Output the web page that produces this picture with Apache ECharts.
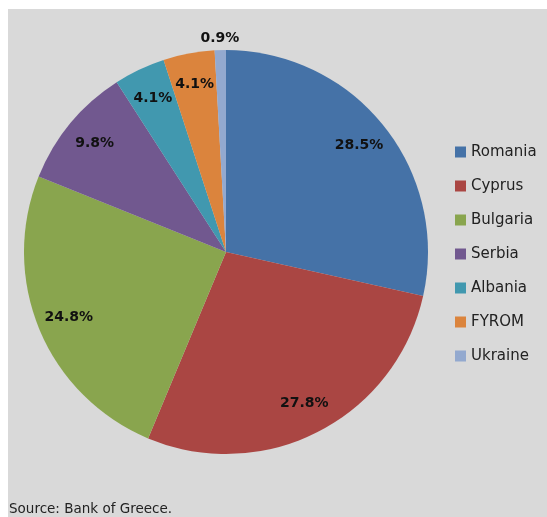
<!DOCTYPE html>
<html>
<head>
<meta charset="utf-8">
<script src="https://cdn.jsdelivr.net/npm/echarts@6/dist/echarts.min.js"></script>
<style>
  html, body { margin: 0; padding: 0; background: #fff; }
  #chart { position: absolute; left: 8px; top: 9px; width: 539px; height: 508px; }
</style>
</head>
<body>
<div id="chart"></div>
<script>
// shares by country (%)
const countries = ['Romania', 'Cyprus', 'Bulgaria', 'Serbia', 'Albania', 'FYROM', 'Ukraine'];
const shares = [28.5, 27.8, 24.8, 9.8, 4.1, 4.1, 0.9];
const colours = ['#4572a7', '#aa4643', '#89a54e', '#71588f', '#4198af', '#db843d', '#93a9cf'];

const pieData = countries.map((c, i) => ({ name: c, value: shares[i] }));

var chart = echarts.init(document.getElementById('chart'));

const labelStyle = {
    show: true,
    position: 'inside',
    formatter: p => p.value.toFixed(1) + '%',
    fontFamily: 'DejaVu Sans',
    fontWeight: 'bold',
    fontSize: 14,
    color: '#111'
};

chart.setOption({
    backgroundColor: '#d9d9d9',
    animation: false,
    color: colours,
    title: {
        text: 'Source: Bank of Greece.',
        left: 0,
        bottom: 0,
        textStyle: { fontFamily: 'DejaVu Sans', fontSize: 13.5, fontWeight: 'normal', color: '#222' },
        padding: [0, 0, 1, 1]
    },
    legend: {
        orient: 'vertical',
        left: 447,
        top: 135,
        data: countries,
        icon: 'rect',
        itemWidth: 11,
        itemHeight: 11,
        itemGap: 18,
        padding: 0,
        selectedMode: false,
        textStyle: { fontFamily: 'DejaVu Sans', fontSize: 15, lineHeight: 16, color: '#222' }
    },
    series: [
        {
            type: 'pie',
            center: [218, 243],
            radius: [0, 202],
            startAngle: 90,
            clockwise: true,
            silent: true,
            label: { show: false },
            labelLine: { show: false },
            data: pieData
        },
        {
            // transparent ring to place labels near the outer edge
            type: 'pie',
            center: [218, 243],
            radius: [130, 205],
            startAngle: 90,
            silent: true,
            itemStyle: { color: 'transparent' },
            label: labelStyle,
            labelLine: { show: false },
            data: pieData.map(d => ({
                name: d.name, value: d.value,
                label: { show: d.name !== 'Ukraine' }
            }))
        },
        {
            type: 'pie',
            center: [218, 243],
            radius: [200, 221],
            startAngle: 90,
            silent: true,
            itemStyle: { color: 'transparent' },
            label: labelStyle,
            labelLine: { show: false },
            data: pieData.map(d => ({
                name: d.name, value: d.value,
                label: { show: d.name === 'Ukraine' }
            }))
        }
    ]
});
</script>
</body>
</html>
